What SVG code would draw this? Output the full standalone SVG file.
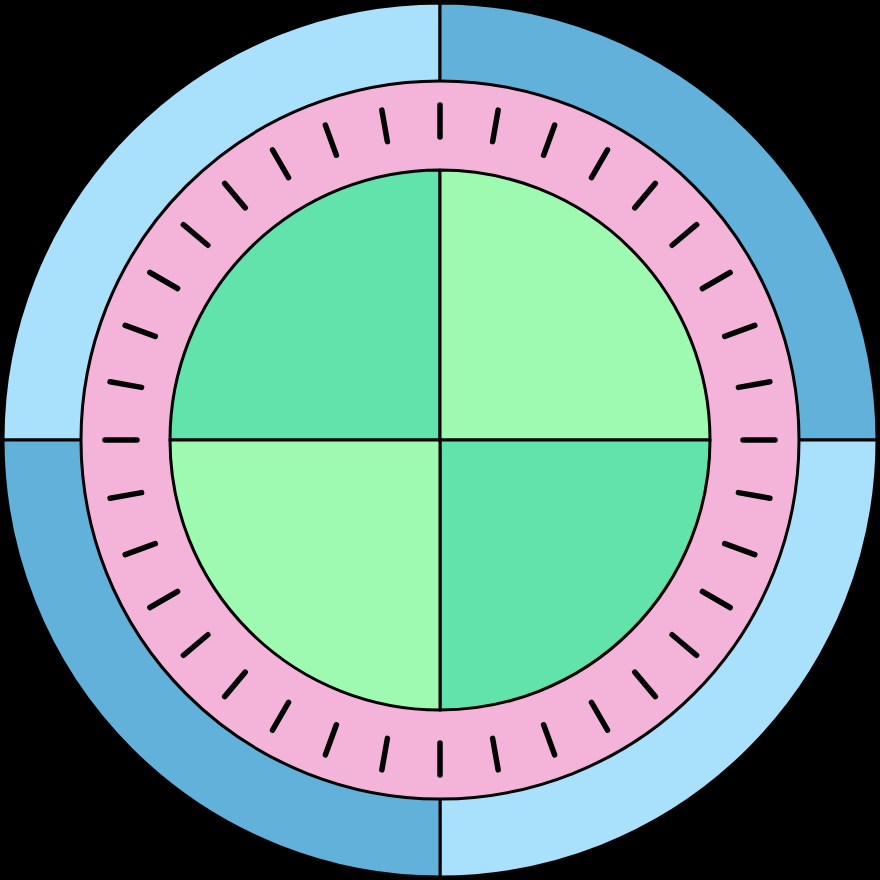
<svg xmlns="http://www.w3.org/2000/svg" width="880" height="880" viewBox="0 0 880 880">
<style>
.s{stroke:#000;stroke-width:3;stroke-linejoin:round}
.lb{fill:#A9E0FC}.db{fill:#62B1DB}.pk{fill:#F4B4D9}.dg{fill:#61E3AB}.lg{fill:#9EFAB0}
.t{stroke:#000;stroke-width:5.5;stroke-linecap:round}
</style>
<defs><line id="tk" class="t" x1="440" y1="105" x2="440" y2="137"/></defs>
<rect width="880" height="880" fill="#000"/>
<g id="outer-ring">
<path class="lb s" d="M440 440 L3 440 A437 437 0 0 1 440 3 Z"/>
<path class="db s" d="M440 440 L440 3 A437 437 0 0 1 877 440 Z"/>
<path class="lb s" d="M440 440 L877 440 A437 437 0 0 1 440 877 Z"/>
<path class="db s" d="M440 440 L440 877 A437 437 0 0 1 3 440 Z"/>
</g>
<g id="dial-ring">
<circle class="pk s" cx="440" cy="440" r="359"/>
<g id="ticks">
<use href="#tk"/><use href="#tk" transform="rotate(10 440 440)"/><use href="#tk" transform="rotate(20 440 440)"/><use href="#tk" transform="rotate(30 440 440)"/><use href="#tk" transform="rotate(40 440 440)"/><use href="#tk" transform="rotate(50 440 440)"/><use href="#tk" transform="rotate(60 440 440)"/><use href="#tk" transform="rotate(70 440 440)"/><use href="#tk" transform="rotate(80 440 440)"/><use href="#tk" transform="rotate(90 440 440)"/><use href="#tk" transform="rotate(100 440 440)"/><use href="#tk" transform="rotate(110 440 440)"/><use href="#tk" transform="rotate(120 440 440)"/><use href="#tk" transform="rotate(130 440 440)"/><use href="#tk" transform="rotate(140 440 440)"/><use href="#tk" transform="rotate(150 440 440)"/><use href="#tk" transform="rotate(160 440 440)"/><use href="#tk" transform="rotate(170 440 440)"/><use href="#tk" transform="rotate(180 440 440)"/><use href="#tk" transform="rotate(190 440 440)"/><use href="#tk" transform="rotate(200 440 440)"/><use href="#tk" transform="rotate(210 440 440)"/><use href="#tk" transform="rotate(220 440 440)"/><use href="#tk" transform="rotate(230 440 440)"/><use href="#tk" transform="rotate(240 440 440)"/><use href="#tk" transform="rotate(250 440 440)"/><use href="#tk" transform="rotate(260 440 440)"/><use href="#tk" transform="rotate(270 440 440)"/><use href="#tk" transform="rotate(280 440 440)"/><use href="#tk" transform="rotate(290 440 440)"/><use href="#tk" transform="rotate(300 440 440)"/><use href="#tk" transform="rotate(310 440 440)"/><use href="#tk" transform="rotate(320 440 440)"/><use href="#tk" transform="rotate(330 440 440)"/><use href="#tk" transform="rotate(340 440 440)"/><use href="#tk" transform="rotate(350 440 440)"/>
</g>
</g>
<g id="center">
<path class="dg s" d="M440 440 L170 440 A270 270 0 0 1 440 170 Z"/>
<path class="lg s" d="M440 440 L440 170 A270 270 0 0 1 710 440 Z"/>
<path class="dg s" d="M440 440 L710 440 A270 270 0 0 1 440 710 Z"/>
<path class="lg s" d="M440 440 L440 710 A270 270 0 0 1 170 440 Z"/>
</g>
</svg>
